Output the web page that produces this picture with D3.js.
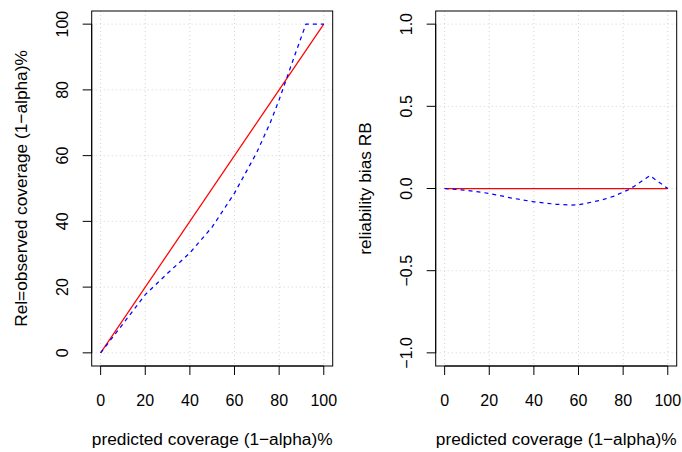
<!DOCTYPE html>
<html>
<head>
<meta charset="utf-8">
<script src="https://cdn.jsdelivr.net/npm/d3@7"></script>
<style>
  body { margin: 0; background: #fff; }
  svg { display: block; font-family: "Liberation Sans", Arial, sans-serif; }
</style>
</head>
<body>
<svg id="chart" width="682" height="452"></svg>
<script>
const predicted = [0, 100];
const ideal = [0, 100];
const obsX = [0, 5, 10, 20, 30, 40, 50, 60, 70, 76, 80, 85, 90, 92, 100];
const observed = [0, 4.4, 8.8, 17.7, 24.2, 30.4, 38.3, 48.6, 61, 70, 77, 86.7, 96.2, 100, 100];

const biasX = [0, 10, 20, 30, 40, 50, 56, 60, 70, 76, 82, 85, 92, 100];
const bias = [0, -0.011, -0.03, -0.058, -0.081, -0.096, -0.101, -0.099, -0.072, -0.046, -0.01, 0.014, 0.078, 0];
const zeroBias = [0, 0];

const xTicks = [0, 20, 40, 60, 80, 100];
const leftTicks = [0, 20, 40, 60, 80, 100];
const rightTicks = [-1, -0.5, 0, 0.5, 1];

const xTitle = 'predicted coverage (1\u2212alpha)%';
const leftTitle = 'Rel=observed coverage (1\u2212alpha)%';
const rightTitle = 'reliability bias RB';

const svg = d3.select('#chart');
const plotTop = 11, plotBottom = 366, tickLen = 9;

const pad = ([a, b]) => [a - (b - a) * 0.04, b + (b - a) * 0.04];

function panel(left, right, yDomain, yTicks, yFmt, yTitle, reference, series) {
  const x = d3.scaleLinear().domain(pad([0, 100])).range([left, right]);
  const y = d3.scaleLinear().domain(pad(yDomain)).range([plotBottom, plotTop]);
  const g = svg.append('g');

  // grid
  g.selectAll('.vg').data(xTicks).join('line')
    .attr('x1', d => x(d)).attr('x2', d => x(d))
    .attr('y1', plotTop).attr('y2', plotBottom)
    .attr('stroke', '#d3d3d3').attr('stroke-dasharray', '1 3');
  g.selectAll('.hg').data(yTicks).join('line')
    .attr('x1', left).attr('x2', right)
    .attr('y1', d => y(d)).attr('y2', d => y(d))
    .attr('stroke', '#d3d3d3').attr('stroke-dasharray', '1 3');

  const line = d3.line().x(d => x(d[0])).y(d => y(d[1]));

  g.append('path')
    .datum(d3.zip(...reference))
    .attr('d', line)
    .attr('fill', 'none').attr('stroke', '#ff0000').attr('stroke-width', 1.25);

  g.append('path')
    .datum(d3.zip(...series))
    .attr('d', line)
    .attr('fill', 'none').attr('stroke', '#0000ff').attr('stroke-width', 1.25)
    .attr('stroke-dasharray', '4 4');

  g.append('rect')
    .attr('x', left).attr('y', plotTop)
    .attr('width', right - left).attr('height', plotBottom - plotTop)
    .attr('fill', 'none').attr('stroke', '#000');

  // bottom axis
  const xa = g.append('g').attr('transform', `translate(0,${plotBottom})`);
  xa.append('line').attr('x1', x(0)).attr('x2', x(100)).attr('stroke', '#000');
  xa.selectAll('line.t').data(xTicks).join('line').attr('class', 't')
    .attr('x1', d => x(d)).attr('x2', d => x(d))
    .attr('y1', 0).attr('y2', tickLen).attr('stroke', '#000');
  xa.selectAll('text').data(xTicks).join('text')
    .attr('x', d => x(d)).attr('y', 40)
    .attr('text-anchor', 'middle').attr('font-size', 16)
    .text(d => d);

  // left axis
  const ya = g.append('g').attr('transform', `translate(${left},0)`);
  ya.append('line').attr('y1', y(yTicks[0])).attr('y2', y(yTicks[yTicks.length - 1])).attr('stroke', '#000');
  ya.selectAll('line.t').data(yTicks).join('line').attr('class', 't')
    .attr('y1', d => y(d)).attr('y2', d => y(d))
    .attr('x1', 0).attr('x2', -tickLen).attr('stroke', '#000');
  ya.selectAll('text').data(yTicks).join('text')
    .attr('transform', d => `translate(-24,${y(d)}) rotate(-90)`)
    .attr('text-anchor', 'middle').attr('font-size', 16)
    .text(yFmt);

  g.append('text')
    .attr('x', (left + right) / 2).attr('y', 445)
    .attr('text-anchor', 'middle').attr('font-size', 17.3)
    .text(xTitle);

  g.append('text')
    .attr('transform', `translate(${left - 65},${(plotTop + plotBottom) / 2}) rotate(-90)`)
    .attr('text-anchor', 'middle').attr('font-size', 17.3)
    .text(yTitle);
}

panel(91.7, 332.7, [0, 100], leftTicks, d => d, leftTitle,
  [predicted, ideal], [obsX, observed]);
panel(435.7, 676.7, [-1, 1], rightTicks, d3.format('.1f'), rightTitle,
  [predicted, zeroBias], [biasX, bias]);
</script>
</body>
</html>
